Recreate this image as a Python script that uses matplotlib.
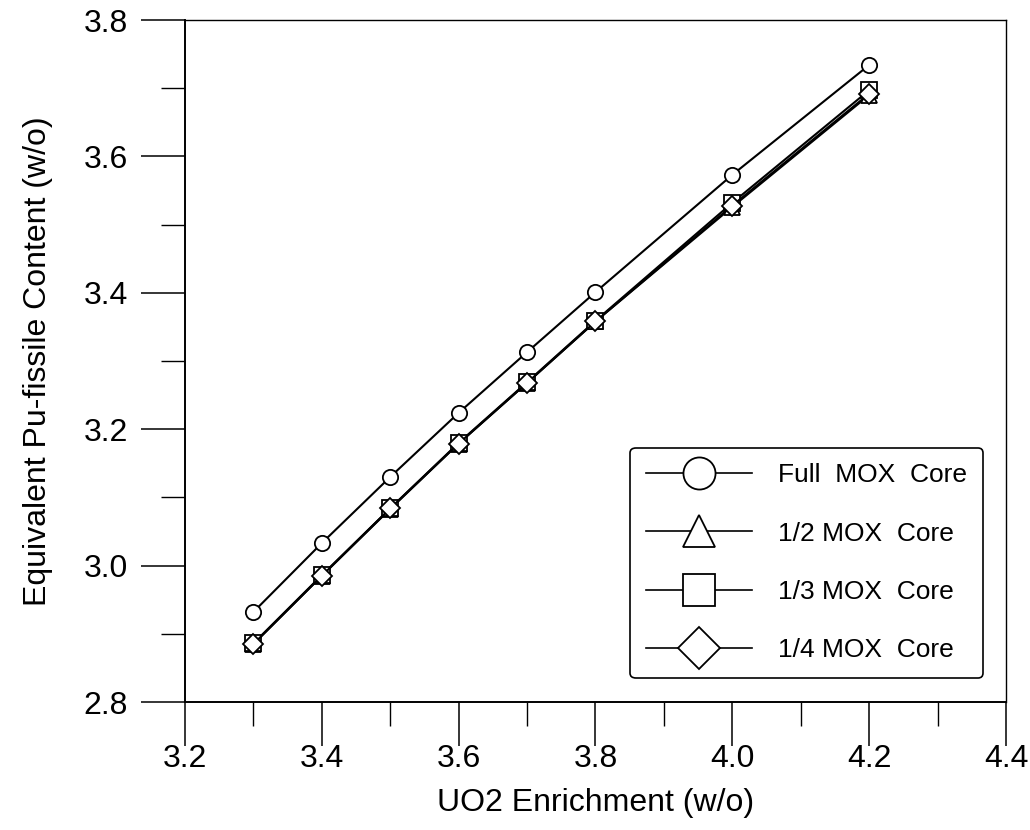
import matplotlib.pyplot as plt
from matplotlib.ticker import MultipleLocator

plt.rcParams['font.family'] = ['Liberation Sans', 'DejaVu Sans']

enrich = [3.3, 3.4, 3.5, 3.6, 3.7, 3.8, 4.0, 4.2]
full_mox = [2.932, 3.033, 3.130, 3.224, 3.313, 3.401, 3.573, 3.734]
half_mox = [2.885, 2.985, 3.083, 3.179, 3.268, 3.358, 3.526, 3.690]
third_mox = [2.886, 2.986, 3.084, 3.180, 3.269, 3.359, 3.532, 3.697]
quarter_mox = [2.885, 2.985, 3.084, 3.179, 3.268, 3.358, 3.528, 3.692]
labels = ['Full  MOX  Core', '1/2 MOX  Core', '1/3 MOX  Core', '1/4 MOX  Core']

fig = plt.figure(figsize=(10.3, 8.3), dpi=100)
ax = fig.add_axes([0.1796, 0.1542, 0.7971, 0.8217])

series = [full_mox, half_mox, third_mox, quarter_mox]
markers = ['o', '^', 's', 'D']
msizes = [11, 11, 11, 10]
for ys, m, ms, lab in zip(series, markers, msizes, labels):
    ax.plot(enrich, ys, color='black', lw=1.5, marker=m, ms=ms,
            mfc='white', mec='black', mew=1.3, label=lab)

ax.set_xlim(3.2, 4.4)
ax.set_ylim(2.8, 3.8)
ax.xaxis.set_major_locator(MultipleLocator(0.2))
ax.xaxis.set_minor_locator(MultipleLocator(0.1))
ax.yaxis.set_major_locator(MultipleLocator(0.2))
ax.yaxis.set_minor_locator(MultipleLocator(0.1))
ax.xaxis.set_major_formatter(plt.FormatStrFormatter('%.1f'))
ax.yaxis.set_major_formatter(plt.FormatStrFormatter('%.1f'))
ax.tick_params(which='major', direction='out', length=32, width=1.1, labelsize=23)
ax.tick_params(which='minor', direction='out', length=17, width=1.0)
ax.tick_params(axis='x', which='major', pad=-2)
ax.tick_params(axis='y', which='major', pad=9)
ax.tick_params(top=False, right=False, which='both')
for side in ['left', 'bottom']:
    ax.spines[side].set_linewidth(1.4)
for side in ['top', 'right']:
    ax.spines[side].set_linewidth(1.0)

ax.set_xlabel('UO2 Enrichment (w/o)', fontsize=23, labelpad=10)
ax.set_ylabel('Equivalent Pu-fissile Content (w/o)', fontsize=23, labelpad=22)

leg = ax.legend(loc='lower right', bbox_to_anchor=(0.972, 0.035), borderaxespad=0,
                fontsize=19, markerscale=2.1, handlelength=4.0, handletextpad=1.0,
                labelspacing=1.3, borderpad=0.6, fancybox=True,
                edgecolor='black', framealpha=1)
leg.get_frame().set_linewidth(1.2)
for h in leg.get_lines():
    h.set_linewidth(1.2)

plt.savefig('out.png', dpi=100)
